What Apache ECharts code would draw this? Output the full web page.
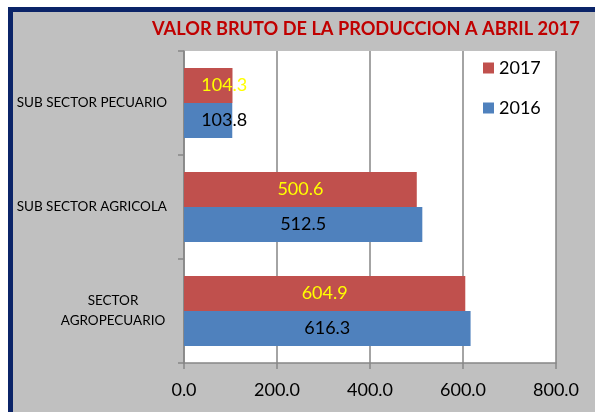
<!DOCTYPE html>
<html>
<head>
<meta charset="utf-8">
<script src="https://cdn.jsdelivr.net/npm/echarts@6/dist/echarts.min.js"></script>
<style>
    html, body { margin: 0; padding: 0; background: #fff; }
    #frame {
        position: absolute; left: 8px; top: 7px; width: 600px; height: 420px;
        border-left: 5px solid #0b2468; border-top: 5px solid #0b2468;
        background: #c0c0c0;
    }
    #chart { position: absolute; left: 0; top: 0; width: 595px; height: 412px; }
</style>
</head>
<body>
<div id="frame"></div>
<div id="chart"></div>
<script>
// categories bottom -> top (echarts draws the first category at the bottom)
const categories = ['SECTOR\nAGROPECUARIO', 'SUB SECTOR AGRICOLA', 'SUB SECTOR PECUARIO'];
const values2016 = [616.3, 512.5, 103.8];
const values2017 = [604.9, 500.6, 104.3];
const xTicks = [0, 200, 400, 600, 800];

const font = 'Lato';

// the short bars get their label pushed a bit to the right, like in the original
const withShift = vals => vals.map(v => v < 200 ? {value: v, label: {offset: [16, 0]}} : v);

let myChart = echarts.init(document.getElementById('chart'));

let option = {
    backgroundColor: 'transparent',
    textStyle: {fontFamily: font},
    title: {
        text: 'VALOR BRUTO DE LA PRODUCCION A ABRIL 2017',
        left: 147,
        top: 15,
        textStyle: {color: '#c00000', fontWeight: 'bold', fontSize: 18.2, fontFamily: font}
    },
    legend: {
        data: ['2017', '2016'],
        orient: 'vertical',
        left: 478,
        top: 54,
        itemWidth: 11,
        itemHeight: 11,
        itemGap: 22,
        icon: 'rect',
        textStyle: {fontSize: 18, color: '#000', fontFamily: font}
    },
    grid: {
        left: 184, right: 39, top: 51, bottom: 49,
        show: true, backgroundColor: '#fff', borderWidth: 0
    },
    xAxis: {
        type: 'value',
        min: xTicks[0],
        max: xTicks[xTicks.length - 1],
        interval: 200,
        axisLine: {show: true, lineStyle: {color: '#868686', width: 1.5}},
        axisTick: {show: true, length: 6, lineStyle: {color: '#868686', width: 1.5}},
        splitLine: {show: true, lineStyle: {color: '#868686', width: 1.5}},
        axisLabel: {
            fontSize: 18, color: '#000', margin: 18, fontFamily: font,
            formatter: v => v.toFixed(1)
        }
    },
    yAxis: {
        type: 'category',
        data: categories,
        axisLine: {show: true, lineStyle: {color: '#868686', width: 1.5}},
        axisTick: {show: true, length: 6, lineStyle: {color: '#868686', width: 1.5}},
        axisLabel: {
            fontSize: 13.5, color: '#000', margin: 17, fontFamily: font,
            formatter: v => v.indexOf('\n') >= 0
                ? v.split('\n').map(s => '{c|' + s + '}').join('\n')
                : v,
            rich: {c: {width: 108, align: 'center', fontSize: 13.5, lineHeight: 20, fontFamily: font}}
        }
    },
    series: [
        {
            name: '2017',
            type: 'bar',
            data: withShift(values2017),
            barWidth: 35,
            barGap: '0%',
            itemStyle: {color: '#c0504d'},
            label: {show: true, position: 'inside', color: '#ffff00', fontSize: 18, fontFamily: font,
                formatter: p => p.value.toFixed(1)}
        },
        {
            name: '2016',
            type: 'bar',
            data: withShift(values2016),
            barWidth: 35,
            barGap: '0%',
            itemStyle: {color: '#4f81bd'},
            label: {show: true, position: 'inside', color: '#000', fontSize: 18, fontFamily: font,
                formatter: p => p.value.toFixed(1)}
        }
    ]
};

myChart.setOption(option);
</script>
</body>
</html>
